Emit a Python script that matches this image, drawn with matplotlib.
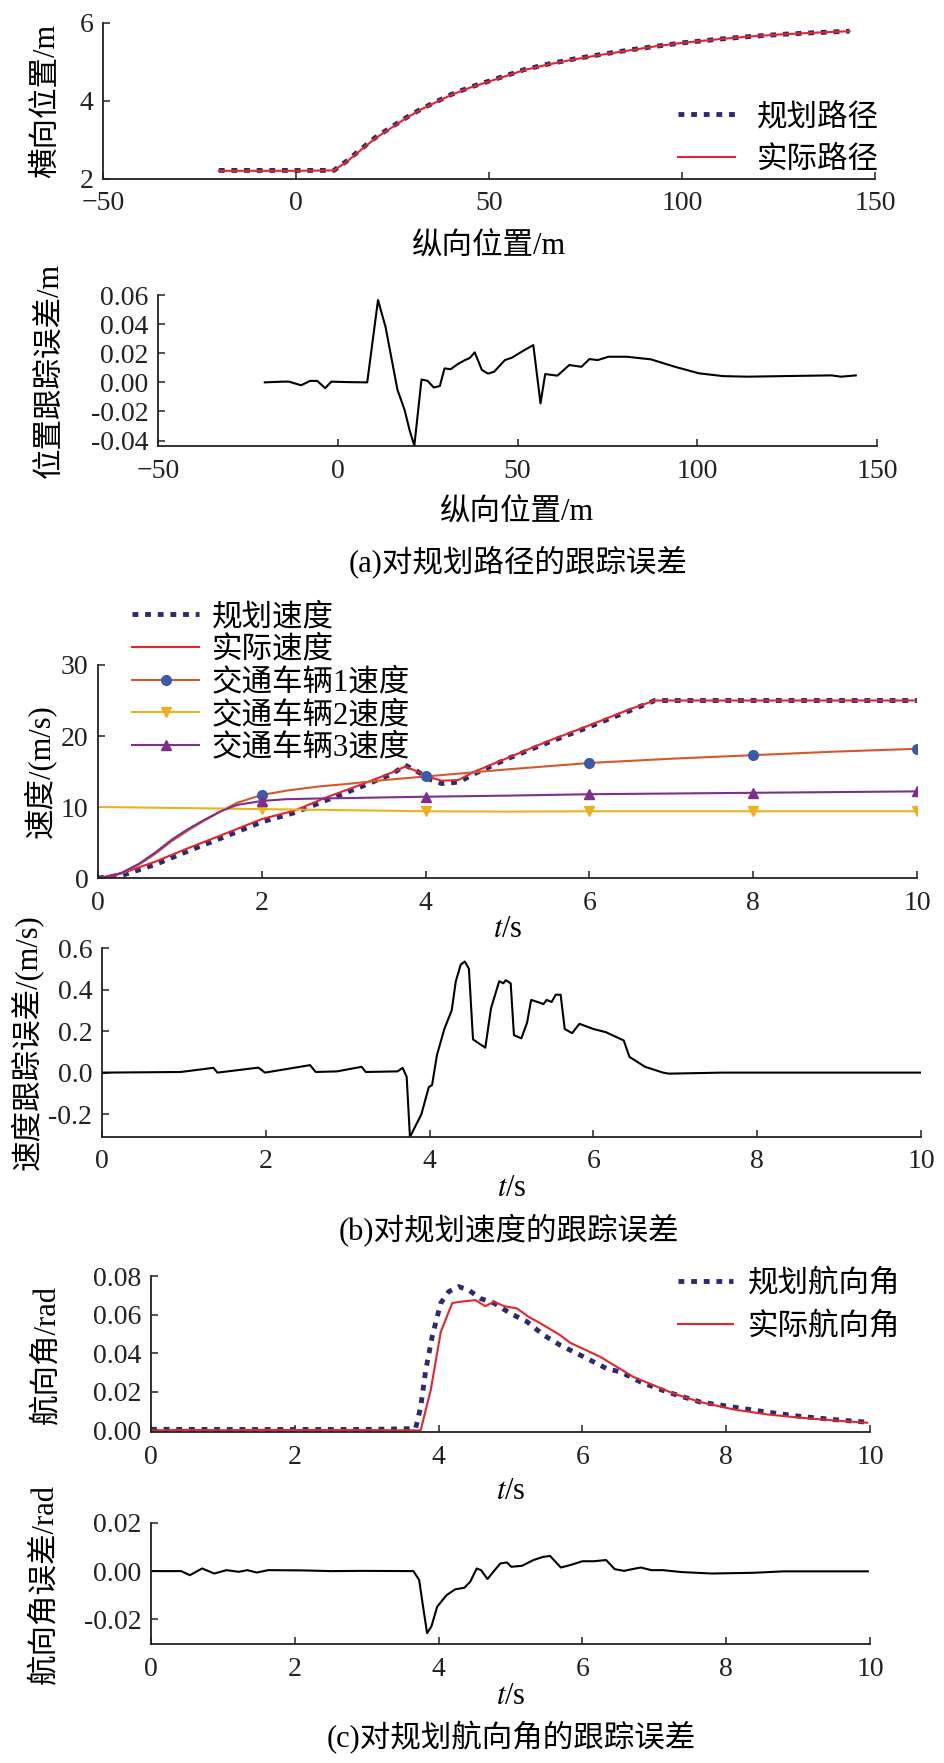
import matplotlib
matplotlib.use('Agg')
from matplotlib import pyplot as plt
from matplotlib.ticker import FormatStrFormatter

plt.rcParams['font.family'] = ['Liberation Serif', 'Noto Sans CJK SC']
plt.rcParams['mathtext.fontset'] = 'stix'
plt.rcParams['axes.unicode_minus'] = True

# (a) path tracking
path_x = [-20, 0, 9.8, 13, 16.9, 20.5, 24.7, 28.5, 32.5, 36.5, 40.3, 45, 50, 55, 59, 65, 71.6, 80, 87.2, 93, 100, 110, 118.4, 126, 134, 143.4]
path_plan = [2.22, 2.22, 2.22, 2.45, 2.77, 3.06, 3.33, 3.57, 3.80, 3.99, 4.17, 4.35, 4.51, 4.67, 4.80, 4.94, 5.07, 5.21, 5.32, 5.40, 5.49, 5.59, 5.66, 5.71, 5.75, 5.79]
path_real = [2.21, 2.21, 2.22, 2.43, 2.75, 3.04, 3.31, 3.56, 3.79, 3.98, 4.16, 4.34, 4.50, 4.66, 4.79, 4.93, 5.06, 5.20, 5.31, 5.40, 5.49, 5.59, 5.66, 5.71, 5.75, 5.79]

perr_x = [-20.3, -15.3, -13.6, -10.2, -7.7, -5.7, -3.5, -1.8, 2.4, 8.2, 11.2, 13.3, 16.6, 18.6, 20.0, 21.3, 23.3, 25, 26.7, 28.4, 29.7, 31.4, 33.4, 35.4, 36.7, 38.1, 40.1, 41.8, 43.5, 46.5, 48.5, 51.8, 54.4, 56.4, 57.7, 61.1, 64.4, 67.8, 70.0, 72.3, 75.3, 80.4, 87.1, 93.8, 100.5, 107.2, 113.9, 124, 137.4, 140, 144.1]
perr = [0, 0.0005, 0.0005, -0.002, 0.001, 0.001, -0.004, 0.0005, 0.0002, 0, 0.0565, 0.038, -0.005, -0.019, -0.033, -0.0435, 0.002, 0.001, -0.0035, -0.0025, 0.0096, 0.009, 0.0126, 0.0153, 0.0167, 0.0206, 0.0085, 0.006, 0.0073, 0.0153, 0.017, 0.022, 0.0256, -0.0144, 0.0057, 0.0046, 0.0119, 0.0107, 0.016, 0.0153, 0.0176, 0.0176, 0.0158, 0.0107, 0.0062, 0.0043, 0.0039, 0.0043, 0.0048, 0.0039, 0.0048]

# (b) speed tracking
t_spd = [0, 0.3, 0.7, 1.1, 1.5, 2.0, 2.4, 2.8, 3.2, 3.6, 3.75, 3.9, 4.05, 4.2, 4.4, 4.6, 5.0, 5.5, 6.0, 6.5, 6.8, 7.0, 8.0, 9.0, 10.0]
spd_plan = [0, 0.4, 1.9, 3.8, 5.6, 7.9, 9.2, 11.0, 12.8, 14.7, 15.9, 15.0, 13.9, 13.3, 13.5, 14.7, 16.8, 19.1, 21.3, 23.6, 25.0, 25.0, 25.0, 25.0, 25.0]
spd_real = [0, 0.7, 2.3, 4.2, 6.0, 8.3, 9.5, 11.4, 13.1, 14.9, 15.7, 15.0, 14.2, 13.7, 13.8, 15.0, 16.9, 19.3, 21.5, 23.8, 25.0, 25.0, 25.0, 25.0, 25.0]

t_veh = [0, 0.15, 0.3, 0.5, 0.7, 0.9, 1.1, 1.3, 1.5, 1.7, 2.0, 2.3, 2.7, 3.0, 3.5, 4.0, 5.0, 6.0, 7.0, 8.0, 9.0, 10.0]
veh1 = [0, 0.15, 0.7, 1.9, 3.4, 5.2, 6.7, 8.1, 9.4, 10.6, 11.7, 12.3, 12.9, 13.2, 13.8, 14.3, 15.3, 16.2, 16.8, 17.3, 17.8, 18.2]
veh2 = [10.0, 9.98, 9.96, 9.93, 9.9, 9.87, 9.84, 9.81, 9.78, 9.75, 9.7, 9.66, 9.6, 9.55, 9.48, 9.4, 9.35, 9.4, 9.4, 9.4, 9.4, 9.4]
veh3 = [0, 0.2, 0.8, 2.0, 3.6, 5.4, 6.9, 8.2, 9.4, 10.3, 10.85, 11.1, 11.2, 11.25, 11.35, 11.45, 11.6, 11.8, 11.9, 12.0, 12.1, 12.2]
veh_mark_t = [2, 4, 6, 8, 10]

t_serr = [0, 0.96, 1.36, 1.41, 1.91, 1.99, 2.54, 2.61, 2.87, 3.17, 3.22, 3.61, 3.67, 3.72, 3.76, 3.9, 3.99, 4.03, 4.09, 4.18, 4.27, 4.32, 4.38, 4.43, 4.48, 4.53, 4.68, 4.75, 4.85, 4.9, 4.93, 4.99, 5.03, 5.12, 5.19, 5.24, 5.32, 5.39, 5.43, 5.49, 5.54, 5.6, 5.65, 5.74, 5.83, 6.0, 6.15, 6.37, 6.44, 6.63, 6.85, 6.92, 7.58, 10]
serr = [0, 0.003, 0.023, 0.0, 0.024, 0.0, 0.036, 0.003, 0.006, 0.028, 0.003, 0.006, 0.023, -0.02, -0.31, -0.2, -0.07, -0.06, 0.085, 0.21, 0.30, 0.44, 0.52, 0.535, 0.50, 0.16, 0.12, 0.31, 0.44, 0.43, 0.445, 0.43, 0.18, 0.165, 0.24, 0.35, 0.34, 0.33, 0.35, 0.34, 0.375, 0.375, 0.21, 0.19, 0.235, 0.21, 0.195, 0.155, 0.076, 0.028, 0.0, -0.005, 0.0, 0.0]

# (c) heading tracking
t_head_plan = [0, 1, 2, 3, 3.68, 3.75, 3.82, 3.91, 4.03, 4.14, 4.28, 4.42, 4.58, 4.77, 5.0, 5.23, 5.46, 5.69, 6.02, 6.34, 6.53, 6.81, 7.18, 7.64, 8.10, 8.57, 9.03, 9.5, 9.96]
head_plan = [0.0006, 0.0005, 0.0005, 0.0005, 0.001, 0.012, 0.031, 0.0485, 0.066, 0.0719, 0.0745, 0.0727, 0.0684, 0.066, 0.0606, 0.0563, 0.0494, 0.0442, 0.0381, 0.032, 0.0303, 0.0251, 0.0199, 0.0147, 0.0121, 0.0095, 0.0073, 0.0056, 0.0043]
t_head_real = [0, 0.5, 1, 1.5, 2, 3, 3.75, 3.89, 4.03, 4.19, 4.31, 4.51, 4.65, 4.77, 4.91, 5.09, 5.25, 5.42, 5.69, 5.83, 5.97, 6.25, 6.48, 6.71, 6.99, 7.27, 7.64, 8.10, 8.57, 9.03, 9.5, 9.96]
head_real = [0.0, 0.0003, 0.0001, 0.0003, 0.0002, 0.0002, 0.0, 0.0208, 0.051, 0.066, 0.0667, 0.0675, 0.0644, 0.0667, 0.0644, 0.0632, 0.0589, 0.0554, 0.0494, 0.0454, 0.043, 0.0381, 0.0329, 0.0277, 0.0234, 0.0191, 0.0147, 0.0109, 0.0083, 0.0066, 0.0052, 0.004]

t_herr = [0, 0.42, 0.54, 0.71, 0.88, 1.05, 1.22, 1.34, 1.47, 1.63, 2.1, 2.51, 2.93, 3.65, 3.73, 3.77, 3.84, 3.9, 3.98, 4.11, 4.23, 4.36, 4.44, 4.53, 4.59, 4.68, 4.78, 4.86, 4.95, 5.01, 5.16, 5.32, 5.45, 5.55, 5.7, 5.83, 6.0, 6.16, 6.33, 6.45, 6.58, 6.69, 6.81, 6.96, 7.12, 7.38, 7.8, 8.38, 8.8, 9.97]
herr = [0, 0, -0.0017, 0.0011, -0.001, 0.0004, -0.0003, 0.0004, -0.0006, 0.0004, 0.0003, 0, 0.0001, 0, -0.0037, -0.012, -0.0258, -0.023, -0.0148, -0.01, -0.0076, -0.0069, -0.0044, 0.0011, 0.0004, -0.0033, 0.0004, 0.0032, 0.0036, 0.0018, 0.0022, 0.0046, 0.0059, 0.0063, 0.0015, 0.0025, 0.0041, 0.0041, 0.0046, 0.0008, 0.0001, 0.0008, 0.0015, 0.0004, 0.0004, -0.0004, -0.001, -0.0007, -0.0001, -0.0001]

NAVY = '#2d2a6e'
RED = '#e3262b'
ORANGE = '#d2592a'
YELLOW = '#edb120'
PURPLE = '#7e2f8e'
BLUE = '#3a5ba9'
DOT = (0, (1.2, 1.4))

TICK = 20
LAB = 22

W, H = 944, 1763
fig = plt.figure(figsize=(W / 100, H / 100), dpi=100)


def add_axes(x0, y0, x1, y1):
    # pixel box -> figure fractions
    ax = fig.add_axes([x0 / W, 1 - y1 / H, (x1 - x0) / W, (y1 - y0) / H])
    for s in ['top', 'right']:
        ax.spines[s].set_visible(False)
    for s in ['left', 'bottom']:
        ax.spines[s].set_linewidth(1.3)
        ax.spines[s].set_color('#222222')
    ax.tick_params(direction='in', length=5, width=1.1, labelsize=TICK, pad=7, colors='#222222')
    ax.tick_params(axis='x', pad=9)
    return ax


def labels(ax, xl, yl, xpos, ypos):
    ax.set_xlabel(xl, fontsize=LAB, va='center')
    ax.xaxis.set_label_coords(0.5, xpos)
    ax.set_ylabel(yl, fontsize=LAB, va='center')
    ax.yaxis.set_label_coords(ypos, 0.5)


# ---- (a) ----
ax1 = add_axes(103, 23, 875, 179)
ax1.plot(path_x, path_plan, color=NAVY, lw=3.5, linestyle=DOT, label='规划路径')
ax1.plot(path_x, path_real, color=RED, lw=1.5, label='实际路径')
ax1.set_xlim(-50, 150)
ax1.set_ylim(2, 6)
ax1.set_xticks([-50, 0, 50, 100, 150])
ax1.set_yticks([2, 4, 6])
labels(ax1, '纵向位置/m', '横向位置/m', -0.436, -0.073)
ax1.legend(loc='upper left', bbox_to_anchor=(678 / W, 1 - 103 / H), bbox_transform=fig.transFigure,
           frameon=False, fontsize=LAB, handlelength=1.87, handletextpad=0.7, labelspacing=0.45,
           borderpad=0, borderaxespad=0)

ax2 = add_axes(158, 295, 877, 446)
ax2.plot(perr_x, perr, color='black', lw=1.5)
ax2.set_xlim(-50, 150)
ax2.set_ylim(-0.0437, 0.06)
ax2.set_xticks([-50, 0, 50, 100, 150])
ax2.set_yticks([-0.04, -0.02, 0, 0.02, 0.04, 0.06])
ax2.yaxis.set_major_formatter(FormatStrFormatter('%.2f'))
labels(ax2, '纵向位置/m', '位置跟踪误差/m', -0.444, -0.150)

fig.text(518 / W, 1 - 562 / H, '(a)对规划路径的跟踪误差', fontsize=LAB, ha='center', va='center')

# ---- (b) ----
mark_idx = [t_veh.index(t) for t in veh_mark_t]
ax3 = add_axes(98, 665, 917, 878)
ax3.plot(t_spd, spd_plan, color=NAVY, lw=3.5, linestyle=DOT, label='规划速度')
ax3.plot(t_spd, spd_real, color=RED, lw=1.5, label='实际速度')
ax3.plot(t_veh, veh1, color=ORANGE, lw=1.5, marker='o', ms=7, mfc=BLUE, mec=BLUE,
         markevery=mark_idx, label='交通车辆1速度')
ax3.plot(t_veh, veh2, color=YELLOW, lw=1.5, marker='v', ms=7, mfc=YELLOW, mec=YELLOW,
         markevery=mark_idx, label='交通车辆2速度')
ax3.plot(t_veh, veh3, color=PURPLE, lw=1.5, marker='^', ms=7, mfc=PURPLE, mec=PURPLE,
         markevery=mark_idx, label='交通车辆3速度')
ax3.set_xlim(0, 10)
ax3.set_ylim(0, 30)
ax3.set_xticks([0, 2, 4, 6, 8, 10])
ax3.set_yticks([0, 10, 20, 30])
labels(ax3, r'$t$/s', '速度/(m/s)', -0.240, -0.072)
ax3.legend(loc='upper left', bbox_to_anchor=(132 / W, 1 - 603 / H), bbox_transform=fig.transFigure,
           frameon=False, fontsize=LAB, handlelength=2.2, handletextpad=0.4, labelspacing=0.12,
           borderpad=0, borderaxespad=0)

ax4 = add_axes(102, 948, 921, 1137)
ax4.plot(t_serr, serr, color='black', lw=1.5)
ax4.set_xlim(0, 10)
ax4.set_ylim(-0.31, 0.6)
ax4.set_xticks([0, 2, 4, 6, 8, 10])
ax4.set_yticks([-0.2, 0, 0.2, 0.4, 0.6])
ax4.yaxis.set_major_formatter(FormatStrFormatter('%.1f'))
labels(ax4, r'$t$/s', '速度跟踪误差/(m/s)', -0.270, -0.092)

fig.text(509 / W, 1 - 1230 / H, '(b)对规划速度的跟踪误差', fontsize=LAB, ha='center', va='center')

# ---- (c) ----
ax5 = add_axes(151, 1276, 870, 1432)
ax5.plot(t_head_plan, head_plan, color=NAVY, lw=3.5, linestyle=DOT, label='规划航向角')
ax5.plot(t_head_real, head_real, color=RED, lw=1.5, label='实际航向角')
ax5.set_xlim(0, 10)
ax5.set_ylim(-0.0008, 0.08)
ax5.set_xticks([0, 2, 4, 6, 8, 10])
ax5.set_yticks([0, 0.02, 0.04, 0.06, 0.08])
ax5.yaxis.set_major_formatter(FormatStrFormatter('%.2f'))
labels(ax5, r'$t$/s', '航向角/rad', -0.38, -0.145)
ax5.legend(loc='upper left', bbox_to_anchor=(678 / W, 1 - 1270 / H), bbox_transform=fig.transFigure,
           frameon=False, fontsize=LAB, handlelength=1.8, handletextpad=0.5, labelspacing=0.45,
           borderpad=0, borderaxespad=0)

ax6 = add_axes(151, 1523, 870, 1644)
ax6.plot(t_herr, herr, color='black', lw=1.5)
ax6.set_xlim(0, 10)
ax6.set_ylim(-0.0303, 0.02)
ax6.set_xticks([0, 2, 4, 6, 8, 10])
ax6.set_yticks([-0.02, 0, 0.02])
ax6.yaxis.set_major_formatter(FormatStrFormatter('%.2f'))
labels(ax6, r'$t$/s', '航向角误差/rad', -0.43, -0.147)

fig.text(511 / W, 1 - 1738 / H, '(c)对规划航向角的跟踪误差', fontsize=LAB, ha='center', va='center')

fig.savefig('out.png', dpi=100)
